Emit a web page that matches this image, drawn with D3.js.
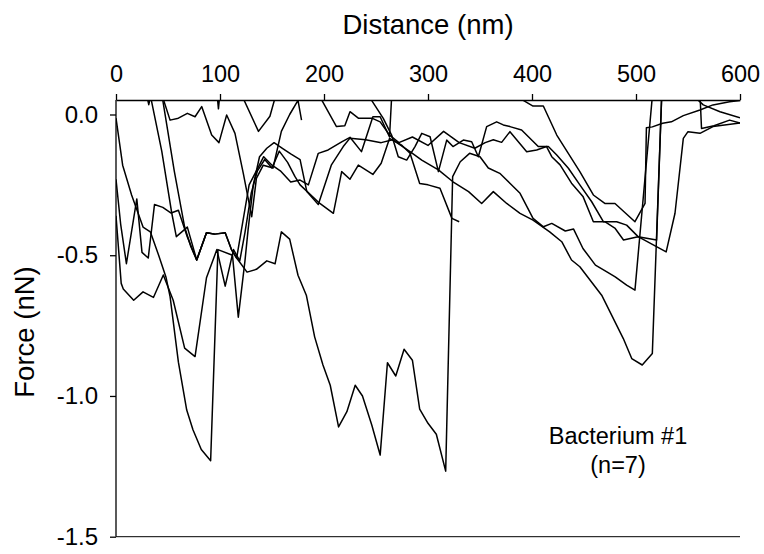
<!DOCTYPE html>
<html><head><meta charset="utf-8">
<script src="https://cdn.jsdelivr.net/npm/d3@7"></script>
<style>body{margin:0;background:#fff}svg{display:block}text{font-family:"Liberation Sans",Arial,sans-serif;fill:#000}</style>
</head><body><svg id="c" width="764" height="554"></svg>
<script>
const xTicks=[0,100,200,300,400,500,600];
const yTicks=[0,-0.5,-1.0,-1.5];
// distance (nm), force (nN); values above the top of the axis are clipped as in the original
const curveA=[[0,-0.013],[6.4,-0.18],[15,-0.286],[26,-0.40],[33,-0.417],[41,-0.50],[48,-0.577],[52,-0.647],[60,-0.88],[68,-1.05],[74,-1.12],[82,-1.19],[91,-1.23],[98,-0.48],[112,-0.50],[117.6,-0.72],[124,-0.52],[127,-0.41],[132,-0.25],[138,-0.15],[145,-0.12],[152,-0.10],[160,-0.12],[168,-0.14],[177,-0.16],[183.5,-0.274],[194.5,-0.32],[207,-0.18],[218.5,-0.114],[225,-0.084],[240,-0.09],[255,-0.10],[266,-0.09],[275,-0.11],[282.7,-0.138],[292,-0.245],[300,-0.25],[311.5,-0.262],[323,-0.369],[330,-0.381]];
const curveB=[[0,-0.23],[4.5,-0.39],[10,-0.53],[20,-0.30],[25,-0.49],[31,-0.51],[37,-0.32],[45,-0.33],[53,-0.35],[60,-0.34],[68.5,-0.434],[77.6,-0.517],[87,-0.42],[95,-0.425],[105,-0.42],[111,-0.48],[116,-0.51],[126,-0.56],[135,-0.55],[145,-0.52],[153,-0.53],[159,-0.417],[167,-0.443],[175,-0.571],[183,-0.642],[191,-0.79],[199,-0.89],[206,-0.962],[214,-1.11],[222,-1.056],[230,-0.962],[237,-1.0],[246,-1.104],[254,-1.21],[261,-0.882],[269,-0.929],[277,-0.834],[285,-0.873],[292,-1.047],[300,-1.097],[308,-1.136],[317,-1.267],[323.7,-0.221],[331,-0.168],[340,-0.138],[350,-0.15],[358,-0.19],[369,-0.209],[379,-0.245],[388.5,-0.28],[401,-0.369],[411,-0.399],[419,-0.387],[432,-0.414],[440,-0.407],[449,-0.476],[461,-0.535],[472,-0.559],[480,-0.577],[491,-0.606],[499,-0.624],[519,0.2],[555,0.2],[560,0.05],[564.7,0.034],[580.8,0.01],[600,-0.012]];
const curveC=[[0,-0.36],[5,-0.60],[7,-0.62],[17,-0.66],[26,-0.63],[36,-0.65],[45.5,-0.57],[55,-0.66],[66,-0.83],[76,-0.86],[87,-0.58],[97,-0.48],[105,-0.61],[113,-0.48],[119,-0.52],[124,-0.42],[130,-0.28],[136,-0.20],[143,-0.16],[150,-0.19],[157,-0.13],[165,-0.17],[172,-0.22],[177,-0.25],[196,-0.316],[209,-0.351],[217,-0.203],[225,-0.23],[233,-0.18],[247,-0.213],[255,-0.173],[263,-0.085],[270,-0.10],[282.7,-0.132],[294,-0.162],[310,-0.197],[324,-0.239],[339,-0.274],[351.6,-0.316],[362.8,-0.274],[375.7,-0.316],[388.5,-0.351],[401,-0.375],[417,-0.417],[428.6,-0.452],[438,-0.517],[446,-0.541],[467,-0.642],[487.8,-0.796],[495.9,-0.867],[506,-0.89],[515.7,-0.849],[526,0.2],[560,0.2],[563,-0.05],[575,-0.04],[590,-0.02],[600,-0.03]];
const curveD=[[45,0.06],[52,-0.02],[60,-0.013],[68.6,0.004],[76,-0.008],[82.4,0.028],[92,-0.073],[99,-0.10],[106.4,-0.002],[114.4,-0.067],[122.4,-0.209],[130.5,-0.363],[135,-0.227],[141.6,-0.18],[151,-0.19],[159,-0.06],[167,0],[175,0.05],[178.4,-0.02]];
const curveE=[[43,0.12],[45,0.05],[56,-0.2],[66,-0.40],[72,-0.47],[77.6,-0.517],[87,-0.42],[95,-0.425]];
const curveF=[[30,0.2],[34,0.05],[44,-0.13],[53.6,-0.35],[58,-0.434],[68.6,-0.40],[77.6,-0.517],[87,-0.42],[95,-0.425],[105,-0.42],[111,-0.48],[116,-0.51],[122,-0.38],[128,-0.25],[135,-0.20],[142,-0.15],[150,-0.18],[158,-0.20],[168,-0.24],[177,-0.233],[185,-0.25],[194.5,-0.138],[204,-0.126],[217,-0.097],[225,-0.081],[236,-0.132],[247,-0.008],[254,-0.008],[263,-0.08],[267,0.2],[385,0.2],[391.6,0.05],[401,0.03],[410.9,0.03],[423.8,-0.073],[446,-0.203],[459,-0.286],[470,-0.316],[479.8,-0.316],[499,-0.381],[508.7,-0.316],[510,-0.047],[515.7,-0.044],[525.6,-0.031],[534,-0.026],[545.5,-0.004],[561.5,0.016],[574,0.034],[590,0.045],[600,0.05]];
const curveG=[[240,0.15],[245.8,0.05],[257,-0.014],[265,-0.073],[271.4,-0.15],[279.5,-0.162],[287.5,-0.114],[294,-0.067],[302,-0.079],[310,-0.203],[318,-0.091],[324,-0.114],[334,-0.091],[342,-0.097],[348.4,-0.15],[356.4,-0.043],[366,-0.026],[372.4,-0.037],[378.8,-0.043],[390,-0.055],[406,-0.114],[415.7,-0.114],[423.8,-0.144],[435,-0.191],[446,-0.25],[457.4,-0.31],[468.6,-0.381],[481.4,-0.381],[491,-0.393],[502,-0.434],[519.8,-0.446],[526,0.2]];
const curveH=[[20,0.15],[30,0.06],[31.5,0.035],[33,0.06],[90,0.12],[97,0.08],[98.5,0.02],[100,0.08],[115,0.15],[122,0.06],[137,-0.06],[148,-0.006],[153,0.06],[170,0.2],[195,0.1],[198,0.05],[212,-0.043],[220,-0.04],[225,0.01],[233,-0.013],[246,-0.013],[254,-0.026],[263,-0.073],[272,-0.10],[285,-0.08],[300,-0.11],[315,-0.06],[330,-0.10],[345,-0.12],[355,-0.10],[362.8,-0.09],[370.8,-0.099],[378.8,-0.061],[394.9,-0.132],[404.5,-0.126],[414,-0.114],[419,-0.15],[427,-0.179],[438,-0.244],[449,-0.291],[459,-0.381],[470,-0.381],[480,-0.405],[488,-0.446],[502,-0.434],[529,-0.488],[537.5,-0.351],[545.5,-0.085],[550,-0.061],[561.5,-0.067],[574,-0.043],[600,-0.03]];
const series=[curveA,curveB,curveC,curveD,curveE,curveF,curveG,curveH];

const svg=d3.select("#c");
const x=d3.scaleLinear().domain([0,600]).range([116,740]);
const y=d3.scaleLinear().domain([0.0515,-1.5]).range([100,536.7]);

svg.append("defs").append("clipPath").attr("id","plot").append("rect")
  .attr("x",116).attr("y",100).attr("width",624).attr("height",436.7);

const line=d3.line().x(d=>x(d[0])).y(d=>y(d[1]));
svg.append("g").attr("clip-path","url(#plot)").selectAll("path").data(series).join("path")
  .attr("d",line).attr("fill","none").attr("stroke","#000").attr("stroke-width",1.5).attr("stroke-linejoin","round");

const gx=svg.append("g").attr("transform","translate(0,100)")
  .call(d3.axisTop(x).tickValues(xTicks).tickSize(6).tickSizeOuter(0).tickPadding(12).tickFormat(d3.format("d")));
const gy=svg.append("g").attr("transform","translate(116,0)")
  .call(d3.axisLeft(y).tickValues(yTicks).tickSize(6).tickSizeOuter(0).tickPadding(12).tickFormat(d=>d.toFixed(1)));
[gx,gy].forEach(g=>{g.selectAll("path,line").attr("stroke","#000").attr("stroke-width",1.3);
  g.selectAll("text").style("font-family","'Liberation Sans',Arial,sans-serif");});
gx.selectAll("text").style("font-size","23.5px");
gy.selectAll("text").style("font-size","24px");
gy.select(".domain").attr("d","M0,100V536.7");
svg.append("line").attr("x1",x(0)).attr("x2",x(600)).attr("y1",y(-1.5)).attr("y2",y(-1.5))
  .attr("stroke","#000").attr("stroke-width",1);

svg.append("text").attr("x",428).attr("y",33.5).attr("text-anchor","middle").style("font-size","27.5px").text("Distance (nm)");
svg.append("text").attr("transform","translate(34,332) rotate(-90)").attr("text-anchor","middle").style("font-size","27.5px").text("Force (nN)");
svg.append("text").attr("x",618).attr("y",444).attr("text-anchor","middle").style("font-size","23.5px").text("Bacterium #1");
svg.append("text").attr("x",618).attr("y",473).attr("text-anchor","middle").style("font-size","23.5px").text("(n=7)");
</script></body></html>
